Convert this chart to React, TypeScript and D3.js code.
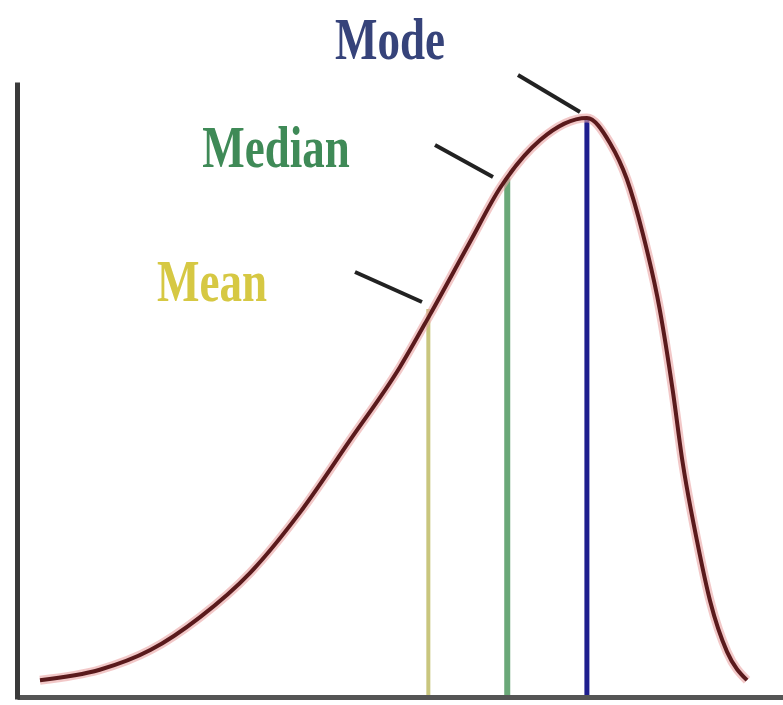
import { useEffect, useRef } from "react";
import { select, scaleLinear, line, curveMonotoneX, axisBottom, axisLeft } from "d3";

// curve (x in arbitrary units, y as relative density)
const curveX = [0.3, 1.08, 1.74, 2.39, 3.04, 3.69, 4.35, 5.0, 5.39, 5.91, 6.31, 6.83, 7.44, 7.74, 7.96, 8.17, 8.39, 8.56, 8.69, 8.88, 9.05, 9.27, 9.53];
const curveY = [0.029, 0.047, 0.081, 0.138, 0.214, 0.318, 0.444, 0.57, 0.66, 0.785, 0.88, 0.962, 1.0, 0.957, 0.895, 0.8, 0.67, 0.53, 0.405, 0.268, 0.165, 0.078, 0.029];

// mean / median / mode markers
const markerNames = ["Mean", "Median", "Mode"];
const markerX = [5.37, 6.4, 7.44];
const markerTop = [0.67, 0.896, 1.0];

function App() {
  const width = 783;
  const height = 705;
  const svgRef = useRef<SVGSVGElement>(null);

  useEffect(() => {
    document.body.style.margin = "0";
    const svg = select(svgRef.current);
    svg.selectAll("*").remove();

    const xScale = scaleLinear().domain([0, 10]).range([17, 783]);
    const yScale = scaleLinear().domain([0, 1]).range([697, 118]);

    const pts: [number, number][] = curveX.map((x, i) => [x, curveY[i]]);
    const lineGen = line<[number, number]>()
      .x((d) => xScale(d[0]))
      .y((d) => yScale(d[1]))
      .curve(curveMonotoneX);

    // vertical marker lines
    const lineColors = ["#c9c67e", "#6aa878", "#1e1e8e"];
    const lineWidths = [4, 6, 5];
    markerX.forEach((mx, i) => {
      svg
        .append("line")
        .attr("x1", xScale(mx))
        .attr("x2", xScale(mx))
        .attr("y1", yScale(markerTop[i]))
        .attr("y2", yScale(0))
        .attr("stroke", lineColors[i])
        .attr("stroke-width", lineWidths[i]);
    });

    // halo + curve
    svg
      .append("path")
      .attr("d", lineGen(pts))
      .attr("fill", "none")
      .attr("stroke", "#e9a4a4")
      .attr("stroke-opacity", 0.6)
      .attr("stroke-width", 9);
    svg
      .append("path")
      .attr("d", lineGen(pts))
      .attr("fill", "none")
      .attr("stroke", "#5a1a1c")
      .attr("stroke-width", 4);

    // axes, no ticks
    svg
      .append("g")
      .attr("transform", `translate(0,${yScale(0)})`)
      .call(axisBottom(xScale).tickValues([]).tickSizeOuter(0))
      .select(".domain")
      .attr("stroke", "#555")
      .attr("stroke-width", 5);
    svg
      .append("g")
      .attr("transform", `translate(${xScale(0)},0)`)
      .call(axisLeft(scaleLinear().domain([0, 1]).range([699, 82])).tickValues([]).tickSizeOuter(0))
      .select(".domain")
      .attr("stroke", "#3a3a3a")
      .attr("stroke-width", 5);

    // labels with pointer lines (text is tall and narrow in the original)
    const labelColors = ["#d6c843", "#3f8a57", "#36437a"];
    const labelPos = [
      [212, 301],
      [276, 167],
      [390, 59],
    ];
    const pointerFrom = [
      [355, 272],
      [435, 145],
      [518, 75],
    ];
    const pointerTo = [
      [422, 302],
      [493, 177],
      [580, 112],
    ];
    markerNames.forEach((name, i) => {
      svg
        .append("text")
        .attr("transform", `translate(${labelPos[i][0]},${labelPos[i][1]}) scale(1,1.3)`)
        .attr("text-anchor", "middle")
        .attr("font-family", "'Liberation Serif', serif")
        .attr("font-weight", "bold")
        .attr("font-size", 45)
        .attr("fill", labelColors[i])
        .text(name);
      svg
        .append("line")
        .attr("x1", pointerFrom[i][0])
        .attr("y1", pointerFrom[i][1])
        .attr("x2", pointerTo[i][0])
        .attr("y2", pointerTo[i][1])
        .attr("stroke", "#222")
        .attr("stroke-width", 4);
    });
  }, []);

  return <svg ref={svgRef} width={width} height={height} style={{ display: "block", background: "#fff" }} />;
}

export default App;
